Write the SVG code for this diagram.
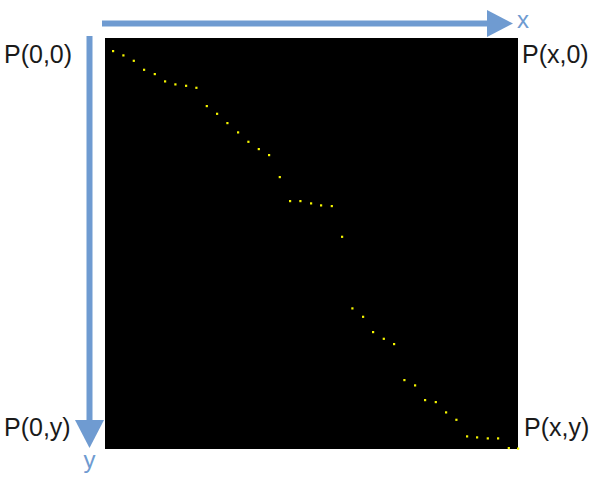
<svg xmlns="http://www.w3.org/2000/svg" width="599" height="487" viewBox="0 0 599 487">
  <style>
    .lbl { font-family: "Liberation Sans", Arial, sans-serif; font-size: 25px; fill: #1a1a1a; }
    .ax { font-family: "Liberation Sans", Arial, sans-serif; font-size: 24px; fill: #6f9bd1; }
    .axis { stroke: #6f9bd1; stroke-width: 6; fill: none; }
    .head { fill: #6f9bd1; }
    .d { fill: #f5f500; }
  </style>
  <defs>
    <rect id="dot" x="-1" y="-1" width="2.2" height="2.2" class="d"/>
  </defs>
  <rect width="599" height="487" fill="#ffffff"/>
  <g id="screen">
    <rect x="105" y="38" width="413" height="411" fill="#000000"/>
  </g>
  <g id="path-dots">
    <use href="#dot" x="113" y="51"/>
    <use href="#dot" x="123.3" y="55.3"/>
    <use href="#dot" x="133.7" y="60.7"/>
    <use href="#dot" x="144" y="69.7"/>
    <use href="#dot" x="154.7" y="74"/>
    <use href="#dot" x="165" y="81.3"/>
    <use href="#dot" x="175.3" y="84.3"/>
    <use href="#dot" x="186" y="85.7"/>
    <use href="#dot" x="196.3" y="87.7"/>
    <use href="#dot" x="206.7" y="106"/>
    <use href="#dot" x="217" y="113.7"/>
    <use href="#dot" x="227.3" y="123"/>
    <use href="#dot" x="238" y="132.3"/>
    <use href="#dot" x="248.3" y="141.7"/>
    <use href="#dot" x="258.7" y="149"/>
    <use href="#dot" x="269" y="155"/>
    <use href="#dot" x="279.7" y="177"/>
    <use href="#dot" x="290" y="201"/>
    <use href="#dot" x="300.3" y="201"/>
    <use href="#dot" x="311" y="203.3"/>
    <use href="#dot" x="321" y="205.3"/>
    <use href="#dot" x="331.7" y="206"/>
    <use href="#dot" x="342" y="236.7"/>
    <use href="#dot" x="352.3" y="308.3"/>
    <use href="#dot" x="363" y="316.7"/>
    <use href="#dot" x="373" y="332"/>
    <use href="#dot" x="383.7" y="338.7"/>
    <use href="#dot" x="394" y="344"/>
    <use href="#dot" x="404.3" y="380"/>
    <use href="#dot" x="415" y="385.3"/>
    <use href="#dot" x="425" y="400"/>
    <use href="#dot" x="435.7" y="402"/>
    <use href="#dot" x="446" y="412.3"/>
    <use href="#dot" x="456.3" y="419.7"/>
    <use href="#dot" x="467" y="436.3"/>
    <use href="#dot" x="477" y="437.3"/>
    <use href="#dot" x="487.7" y="438.3"/>
    <use href="#dot" x="498" y="438.3"/>
    <use href="#dot" x="508.7" y="448"/>
    <use href="#dot" x="518" y="448.5"/>
  </g>
  <g id="connectors">
    <line class="axis" x1="102" y1="23.5" x2="489" y2="23.5"/>
    <polygon class="head" points="487,10 513,23.5 487,37"/>
    <line class="axis" x1="89.5" y1="36" x2="89.5" y2="422"/>
    <polygon class="head" points="75,420 104,420 89.5,448"/>
  </g>
  <g id="axis-labels">
    <text class="ax" x="517" y="28">x</text>
    <text class="ax" x="89.5" y="468" text-anchor="middle">y</text>
  </g>
  <g id="corner-labels">
    <text class="lbl" x="4" y="63">P(0,0)</text>
    <text class="lbl" x="522" y="63">P(x,0)</text>
    <text class="lbl" x="4" y="436">P(0,y)</text>
    <text class="lbl" x="524" y="436">P(x,y)</text>
  </g>
</svg>
